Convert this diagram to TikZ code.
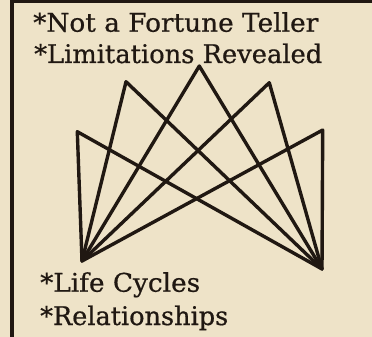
\documentclass[tikz,border=0pt]{standalone}
\usepackage{fontspec}
\setmainfont{DejaVu Serif}[FakeBold=0.6]
\usepackage{graphicx}
\definecolor{paper}{RGB}{238,227,200}
\definecolor{ink}{RGB}{32,24,18}
\begin{document}
\begin{tikzpicture}[x=1pt,y=-1pt,
  fan/.style={draw=ink,line width=3.4pt,line cap=round,line join=round},
  frame/.style={draw=ink,line width=3.5pt},
  label/.style={anchor=base west,inner sep=0pt,text=ink}]
\fill[paper] (0,0) rectangle (372,337);
\useasboundingbox (0,0) rectangle (372,337);
% frame
\coordinate (fTL) at (12,1);
\coordinate (fTR) at (372,1);
\coordinate (fBL) at (12,337);
\draw[frame] (fBL) -- (fTL) -- (fTR);
% texts
\node[label] (t1) at (33,31.7) {\resizebox{285pt}{19.5pt}{*Not a Fortune Teller}};
\node[label] (t2) at (34,63) {\resizebox{288pt}{19.5pt}{*Limitations Revealed}};
\node[label] (t3) at (40,291.7) {\resizebox{160pt}{19.5pt}{*Life Cycles}};
\node[label] (t4) at (40,325) {\resizebox{188pt}{19.5pt}{*Relationships}};
% fan points
\coordinate (L) at (82,261);
\coordinate (R) at (322,269);
\coordinate (p1) at (77.3,131.7);
\coordinate (p2) at (126,81.7);
\coordinate (p3) at (199.3,66);
\coordinate (p4) at (269.3,82.7);
\coordinate (p5) at (322.7,130);
\foreach \p in {p1,p2,p3,p4,p5}{
  \draw[fan] (L) -- (\p) -- (R);
}
\end{tikzpicture}
\end{document}
